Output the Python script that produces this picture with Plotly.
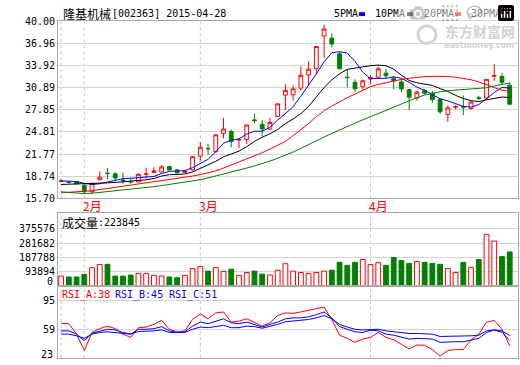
import plotly.graph_objects as go

# ---------------- data ----------------
dates = ["2015-01-28", "2015-01-29", "2015-01-30",
         "2015-02-02", "2015-02-03", "2015-02-04", "2015-02-05", "2015-02-06",
         "2015-02-09", "2015-02-10", "2015-02-11", "2015-02-12", "2015-02-13",
         "2015-02-16", "2015-02-17", "2015-02-25", "2015-02-26", "2015-02-27",
         "2015-03-02", "2015-03-03", "2015-03-04", "2015-03-05", "2015-03-06",
         "2015-03-09", "2015-03-10", "2015-03-11", "2015-03-12", "2015-03-13",
         "2015-03-16", "2015-03-17", "2015-03-18", "2015-03-19", "2015-03-20",
         "2015-03-23", "2015-03-24", "2015-03-25", "2015-03-26", "2015-03-27",
         "2015-03-30", "2015-03-31",
         "2015-04-01", "2015-04-02", "2015-04-03", "2015-04-07", "2015-04-08",
         "2015-04-09", "2015-04-10", "2015-04-13", "2015-04-14", "2015-04-15",
         "2015-04-16", "2015-04-17", "2015-04-20", "2015-04-21", "2015-04-22",
         "2015-04-23", "2015-04-24", "2015-04-27", "2015-04-28"]

opens = [18.05, 17.92, 18.00, 17.50, 16.60, 18.25, 19.15, 19.05, 18.20, 18.00,
         17.95, 19.00, 19.25, 19.30, 20.05, 19.60, 19.25, 19.60, 21.50, 22.55,
         22.10, 24.55, 24.85, 23.70, 23.75, 26.45, 25.85, 25.20, 26.90, 29.85,
         29.90, 30.80, 32.60, 33.45, 37.95, 37.65, 35.50, 32.30, 31.60, 31.00,
         32.05, 32.30, 32.85, 32.15, 31.65, 30.60, 29.45, 30.45, 30.10, 29.25,
         27.20, 28.20, 28.25, 28.00, 29.50, 29.45, 32.45, 32.40, 31.20]
highs = [18.30, 18.05, 18.05, 17.60, 17.85, 19.40, 19.85, 19.30, 19.25, 18.50,
         19.10, 19.90, 19.95, 20.25, 20.20, 19.70, 19.55, 21.45, 23.40, 23.15,
         24.45, 26.75, 25.10, 23.95, 25.80, 27.30, 26.45, 26.75, 28.70, 31.35,
         31.15, 33.80, 34.50, 36.55, 39.45, 38.30, 35.75, 33.40, 32.00, 32.00,
         32.60, 33.80, 33.45, 32.45, 32.00, 30.70, 30.45, 30.65, 30.45, 29.35,
         28.45, 28.50, 29.80, 28.95, 29.75, 32.05, 34.05, 32.85, 31.60]
lows = [17.90, 17.75, 17.60, 16.35, 16.35, 18.20, 18.35, 18.05, 17.70, 17.70,
        17.90, 18.40, 19.20, 19.25, 19.50, 19.10, 19.20, 19.50, 20.85, 21.70,
        21.95, 23.90, 22.70, 22.55, 23.15, 26.00, 24.20, 25.10, 26.85, 27.80,
        29.10, 30.50, 31.10, 32.70, 34.95, 36.40, 33.40, 30.90, 30.25, 30.60,
        31.30, 32.20, 32.10, 30.60, 30.20, 27.80, 29.10, 29.95, 28.80, 27.30,
        26.20, 27.95, 27.10, 27.85, 29.15, 29.25, 31.80, 31.35, 28.55]
closes = [18.08, 17.90, 17.70, 16.60, 17.75, 18.60, 19.10, 18.50, 18.15, 17.97,
          19.00, 19.05, 19.45, 20.00, 19.60, 19.20, 19.40, 21.40, 22.70, 22.50,
          24.40, 25.20, 23.50, 23.75, 25.75, 26.35, 25.20, 26.10, 28.65, 30.50,
          30.70, 32.55, 33.40, 36.50, 38.90, 36.85, 33.45, 32.25, 30.70, 31.80,
          32.25, 33.45, 32.50, 31.80, 30.70, 29.55, 30.25, 30.10, 29.25, 27.55,
          28.10, 28.25, 28.20, 28.90, 29.40, 32.00, 32.50, 31.60, 28.60]

ma5 = [18.10, 18.05, 18.00, 17.75, 17.60, 17.70, 17.95, 18.10, 18.40, 18.45,
       18.55, 18.55, 18.70, 19.10, 19.40, 19.45, 19.50, 19.90, 20.45, 21.05,
       22.10, 23.25, 23.65, 23.85, 24.50, 24.90, 24.90, 25.45, 26.40, 27.35,
       28.25, 29.70, 31.15, 32.75, 34.40, 35.65, 35.80, 35.60, 34.45, 33.00,
       32.10, 32.10, 32.15, 32.35, 32.15, 31.60, 30.95, 30.50, 29.95, 29.35,
       29.05, 28.65, 28.30, 28.20, 28.55, 29.35, 30.20, 30.90, 30.80]
ma10 = [17.60, 17.62, 17.65, 17.68, 17.72, 17.77, 17.82, 17.88, 17.95, 18.04,
        18.13, 18.24, 18.42, 18.76, 18.94, 19.00, 19.03, 19.32, 19.78, 20.23,
        20.77, 21.39, 21.79, 22.17, 22.78, 23.50, 24.08, 24.55, 25.14, 25.94,
        26.57, 27.31, 28.30, 29.57, 30.89, 31.94, 32.76, 33.38, 33.58, 33.71,
        33.87, 33.96, 33.87, 33.40, 32.58, 31.85, 31.53, 31.31, 31.17, 30.74,
        30.33, 29.81, 29.38, 29.09, 28.96, 29.20, 29.43, 29.58, 29.51]
ma20 = [16.45, 16.50, 16.55, 16.60, 16.75, 16.90, 17.05, 17.20, 17.35, 17.50,
        17.65, 17.80, 17.95, 18.10, 18.30, 18.45, 18.60, 18.75, 18.95, 19.15,
        19.45, 19.85, 20.25, 20.65, 21.05, 21.50, 21.95, 22.45, 22.95, 23.50,
        24.30, 25.10, 25.95, 26.90, 27.70, 28.35, 28.95, 29.50, 30.00, 30.55,
        31.00, 31.30, 31.55, 31.80, 32.00, 32.15, 32.28, 32.38, 32.42, 32.42,
        32.38, 32.30, 32.15, 31.95, 31.65, 31.25, 30.80, 30.50, 30.38]
ma30 = [16.60, 16.50, 16.40, 16.35, 16.40, 16.50, 16.60, 16.70, 16.80, 16.95,
        17.05, 17.15, 17.30, 17.45, 17.60, 17.75, 17.90, 18.05, 18.25, 18.50,
        18.75, 19.05, 19.35, 19.60, 19.85, 20.15, 20.45, 20.80, 21.20, 21.60,
        22.05, 22.55, 23.10, 23.60, 24.10, 24.60, 25.10, 25.55, 26.00, 26.45,
        26.90, 27.35, 27.80, 28.25, 28.70, 29.10, 29.50, 29.85, 30.10, 30.30,
        30.45, 30.55, 30.65, 30.70, 30.75, 30.85, 31.10, 31.35, 31.50]

volume = [64000, 58000, 58000, 75000, 120000, 140000, 142000, 64000, 64000, 71000,
          82000, 82000, 69000, 64000, 58000, 53000, 69000, 114000, 127000, 97000,
          120000, 95000, 110000, 69000, 88000, 97000, 77000, 71000, 103000, 146000,
          97000, 88000, 82000, 88000, 97000, 103000, 155000, 135000, 155000, 174000,
          140000, 153000, 135000, 187000, 167000, 148000, 161000, 155000, 148000, 142000,
          114000, 88000, 155000, 122000, 174000, 340000, 296000, 193000, 223845]

rsi_a = [66.4, 66.0, 52.9, 32.4, 55.0, 59.8, 63.0, 59.8, 52.9, 48.8,
         61.0, 61.8, 65.1, 70.4, 59.0, 55.7, 57.0, 71.3, 78.3, 72.1,
         79.5, 80.7, 68.0, 69.2, 72.1, 68.0, 63.0, 67.2, 76.2, 79.5,
         78.9, 80.7, 82.7, 85.6, 86.9, 71.3, 51.6, 47.6, 42.6, 46.7,
         48.8, 55.0, 48.8, 45.9, 40.6, 34.4, 39.3, 38.9, 33.6, 25.4,
         32.4, 33.6, 33.6, 45.9, 52.9, 68.0, 70.1, 59.0, 38.0]
rsi_b = [57.0, 57.0, 52.9, 44.6, 54.1, 57.0, 59.0, 58.2, 55.0, 52.9,
         59.0, 59.0, 59.8, 62.3, 57.0, 55.0, 55.8, 63.0, 68.0, 66.0,
         69.2, 72.1, 67.2, 66.0, 68.0, 65.1, 61.8, 65.1, 68.0, 72.1,
         73.3, 73.3, 74.6, 77.4, 80.7, 73.3, 62.3, 59.0, 55.8, 55.0,
         57.8, 57.0, 52.9, 51.6, 48.8, 46.7, 47.6, 47.6, 46.7, 42.6,
         43.4, 43.4, 43.4, 45.9, 47.6, 55.0, 58.2, 55.0, 45.0]
rsi_c = [52.9, 52.9, 50.8, 47.6, 52.9, 55.0, 55.8, 55.0, 53.7, 52.9,
         56.2, 56.2, 57.0, 58.2, 55.0, 55.0, 55.0, 59.0, 61.8, 61.0,
         62.3, 63.9, 61.0, 61.0, 63.0, 62.3, 60.3, 62.3, 65.1, 68.4,
         69.2, 70.0, 71.3, 73.3, 76.2, 72.1, 65.1, 61.8, 59.0, 58.2,
         59.0, 59.0, 57.0, 55.8, 55.0, 53.7, 53.7, 53.7, 52.9, 50.0,
         50.0, 50.0, 50.8, 50.8, 51.6, 57.0, 58.2, 57.0, 51.0]

price_ticks = [15.70, 18.74, 21.77, 24.81, 27.85, 30.89, 33.92, 36.96, 40.00]
vol_ticks = [0, 93894, 187788, 281682, 375576]
rsi_ticks = [23, 59, 95]

stock_name = "隆基机械"
stock_code = "[002363] 2015-04-28"
ma_names = ["5PMA", "10PMA", "20PMA", "30PMA"]

# ---------------- styling ----------------
RED, GREEN, BLUE, BLACK = "#FF0000", "#008000", "#0000FF", "#000000"
FRAME = "#A8A8A8"
GRID = "#D4D4D4"
DASH = "#C4C4C4"
WM = "#D2D2D2"
MONO = "DejaVu Sans Mono"
CJK = "Noto Sans CJK SC"
W, H = 520, 365
ML, MR, MT, MB = 58, 2, 21, 1
PW, PH = W - ML - MR, H - MT - MB


def px(x):
    return (x - ML) / PW


def py(y):
    return (H - MB - y) / PH


x = list(range(len(dates)))
up = [c >= o for o, c in zip(opens, closes)]

fig = go.Figure()

ma_colors = [BLUE, BLACK, RED, GREEN]
for series, col in zip([ma5, ma10, ma20, ma30], ma_colors):
    fig.add_trace(go.Scatter(x=x, y=series, mode="lines",
                             line=dict(color=col, width=1), hoverinfo="skip",
                             xaxis="x", yaxis="y"))

fig.add_trace(go.Candlestick(
    x=x, open=opens, high=highs, low=lows, close=closes,
    increasing=dict(line=dict(color=RED, width=1), fillcolor="#FFFFFF"),
    decreasing=dict(line=dict(color=GREEN, width=1), fillcolor=GREEN),
    whiskerwidth=0, hoverinfo="skip", xaxis="x", yaxis="y"))

fig.add_trace(go.Bar(
    x=x, y=volume, width=0.62,
    marker=dict(color=["#FFFFFF" if u else GREEN for u in up],
                line=dict(color=[RED if u else GREEN for u in up], width=1)),
    hoverinfo="skip", xaxis="x2", yaxis="y2"))

for series, col in zip([rsi_a, rsi_b, rsi_c], [RED, BLUE, BLUE]):
    fig.add_trace(go.Scatter(x=x, y=series, mode="lines",
                             line=dict(color=col, width=1), hoverinfo="skip",
                             xaxis="x3", yaxis="y3"))

xcommon = dict(range=[-0.4, len(dates) + 0.07], showticklabels=False, showgrid=False,
               zeroline=False, showline=True, mirror=True, linecolor=FRAME,
               linewidth=1, ticks="", fixedrange=True)
ycommon = dict(showgrid=True, gridcolor=GRID, gridwidth=1, zeroline=False,
               showline=True, mirror=True, linecolor=FRAME, linewidth=1,
               ticks="", ticklen=0, tickfont=dict(family=MONO, size=10, color=BLACK),
               fixedrange=True)

fig.update_layout(
    width=W, height=H, margin=dict(l=ML, r=MR, t=MT, b=MB),
    paper_bgcolor="white", plot_bgcolor="white", showlegend=False,
    hovermode=False,
    xaxis=dict(xcommon, anchor="y", rangeslider=dict(visible=False)),
    xaxis2=dict(xcommon, anchor="y2", matches="x"),
    xaxis3=dict(xcommon, anchor="y3", matches="x"),
    yaxis=dict(ycommon, anchor="x", domain=[py(201.5), 1.0], range=[15.70, 40.00],
               tickvals=price_ticks, ticktext=[f"{v:.2f}" for v in price_ticks]),
    yaxis2=dict(ycommon, anchor="x2", domain=[py(290.5), py(216)], range=[0, 484000],
                tickvals=vol_ticks, ticktext=["" if v == 0 else str(v) for v in vol_ticks]),
    yaxis3=dict(ycommon, anchor="x3", domain=[0, py(290.5)], range=[23, 113.5],
                tickvals=rsi_ticks, ticktext=["" if v == 23 else str(v) for v in rsi_ticks]),
)

# month separators (dashed) and month labels
month_starts = [i for i in range(len(dates)) if i == 0 or dates[i][5:7] != dates[i - 1][5:7]]
shapes = []
for i in month_starts:
    for xa, ya in [("x", "y domain"), ("x2", "y2 domain"), ("x3", "y3 domain")]:
        shapes.append(dict(type="line", xref=xa, yref=ya, x0=i, x1=i, y0=0, y1=1,
                           line=dict(color=DASH, width=1, dash="3px,3px"), layer="below"))

annotations = []
for i in month_starts[1:]:
    annotations.append(dict(x=i, xref="x", y=py(208.5), yref="paper", xanchor="left",
                            yanchor="middle", xshift=-3, showarrow=False,
                            text=f"{int(dates[i][5:7])}月",
                            font=dict(family=CJK, size=12, color=RED)))

# watermark
shapes.append(dict(type="circle", xref="paper", yref="paper", x0=px(418), x1=px(436),
                   y0=py(44), y1=py(26), line=dict(color=WM, width=3), layer="below"))
annotations.append(dict(x=px(480), y=py(31), xref="paper", yref="paper", xanchor="center",
                        yanchor="middle", showarrow=False, text="<b>东方财富网</b>",
                        font=dict(family=CJK, size=14, color=WM)))
annotations.append(dict(x=px(479), y=py(46), xref="paper", yref="paper", xanchor="center",
                        yanchor="middle", showarrow=False, text="<b>eastmoney.com</b>",
                        font=dict(family="DejaVu Sans", size=8, color=WM)))

# title
annotations.append(dict(x=px(61), y=py(13.5), xref="paper", yref="paper", xanchor="left",
                        yanchor="middle", showarrow=False, text=stock_name,
                        font=dict(family=CJK, size=12, color=BLACK)))
annotations.append(dict(x=px(110), y=py(13.5), xref="paper", yref="paper", xanchor="left",
                        yanchor="middle", showarrow=False, text=stock_code,
                        font=dict(family=MONO, size=10, color=BLACK)))

# MA legend
leg_text_x = [332, 373, 422, 469]
leg_sw_x = [359, 407, 455, 503]
for name, col, tx, sx in zip(ma_names, ma_colors, leg_text_x, leg_sw_x):
    annotations.append(dict(x=px(tx), y=py(13.5), xref="paper", yref="paper", xanchor="left",
                            yanchor="middle", showarrow=False, text=name,
                            font=dict(family=MONO, size=10, color=BLACK)))
    shapes.append(dict(type="rect", xref="paper", yref="paper", x0=px(sx), x1=px(sx + 6),
                       y0=py(16), y1=py(12), fillcolor=col, line=dict(width=0)))

# volume title
annotations.append(dict(x=px(60), y=py(226), xref="paper", yref="paper", xanchor="left",
                        yanchor="middle", showarrow=False, text="成交量",
                        font=dict(family=CJK, size=12, color=BLACK)))
annotations.append(dict(x=px(96), y=py(226), xref="paper", yref="paper", xanchor="left",
                        yanchor="middle", showarrow=False, text=f":{volume[-1]}",
                        font=dict(family=MONO, size=10, color=BLACK)))

# RSI title
for label, series, col, tx in zip(["RSI_A", "RSI_B", "RSI_C"], [rsi_a, rsi_b, rsi_c],
                                  [RED, BLUE, BLUE], [60, 113, 167]):
    annotations.append(dict(x=px(tx), y=py(300), xref="paper", yref="paper", xanchor="left",
                            yanchor="middle", showarrow=False,
                            text=f"{label}:{round(series[-1])}",
                            font=dict(family=MONO, size=10, color=col)))

# bottom tick labels lifted inside the canvas
annotations.append(dict(x=px(55), y=py(286), xref="paper", yref="paper", xanchor="right",
                        yanchor="middle", showarrow=False, text=str(vol_ticks[0]),
                        font=dict(family=MONO, size=10, color=BLACK)))
annotations.append(dict(x=px(55), y=py(360), xref="paper", yref="paper", xanchor="right",
                        yanchor="middle", showarrow=False, text=str(rsi_ticks[0]),
                        font=dict(family=MONO, size=10, color=BLACK)))

fig.update_layout(shapes=shapes, annotations=annotations)
fig.write_html("out.html", post_script="document.body.style.margin='0';")
